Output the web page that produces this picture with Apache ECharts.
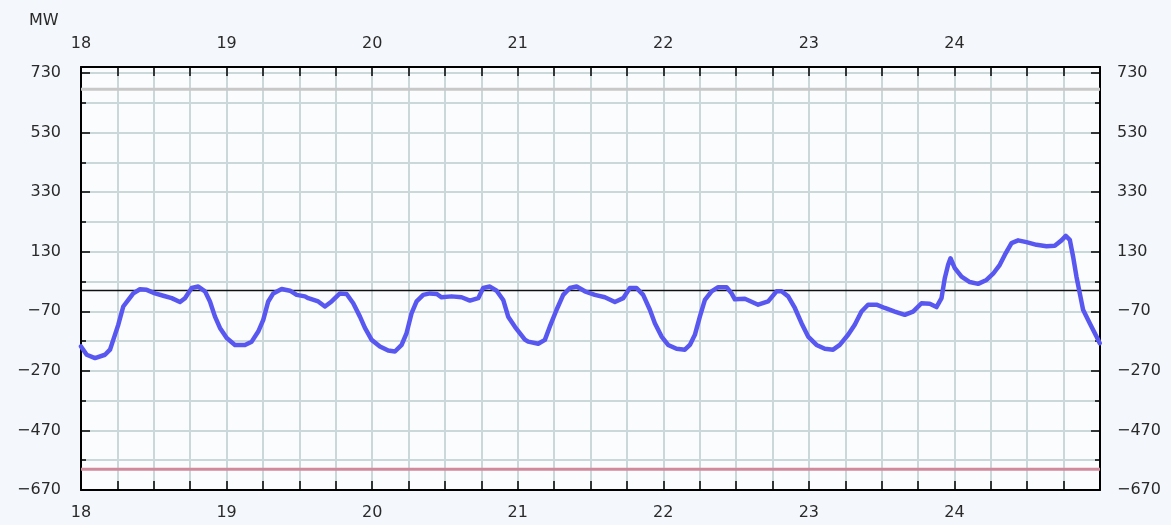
<!DOCTYPE html>
<html>
<head>
<meta charset="utf-8">
<script src="https://cdn.jsdelivr.net/npm/echarts@6/dist/echarts.min.js"></script>
<style>
html,body{margin:0;padding:0;background:#f4f7fb;}
#c{width:1171px;height:525px;}
</style>
</head>
<body>
<div id="c"></div>
<script>
// hours since the 18th, 00:00
const hours = [0.0,0.94,2.31,3.96,4.78,5.32,6.15,6.97,7.80,8.62,9.72,10.83,12.20,13.57,14.95,16.32,17.14,18.25,19.33,20.44,21.26,22.09,22.91,24.02,25.38,27.03,28.14,29.22,30.05,30.87,31.70,33.08,34.45,35.55,36.92,
37.47,39.11,40.22,41.32,42.69,43.79,44.88,45.99,46.81,47.92,49.28,50.65,51.76,52.86,53.68,54.51,55.33,56.42,57.52,58.63,59.45,61.10,62.75,64.12,65.49,66.31,67.41,68.52,69.61,70.43,71.54,73.18,
73.73,75.38,76.48,77.30,78.41,79.50,80.60,81.71,83.07,84.72,86.37,88.02,89.39,90.49,91.59,92.68,93.79,94.61,95.72,96.80,98.19,99.56,100.38,101.21,102.03,102.86,103.96,105.05,106.43,107.26,107.80,109.45,
111.64,113.29,114.67,115.50,116.59,117.69,118.79,119.88,121.26,122.63,124.00,125.10,126.47,127.57,128.68,129.76,131.15,132.52,134.17,135.81,137.18,138.57,139.94,141.04,
141.87,142.41,142.96,143.35,144.06,145.17,146.53,147.90,149.29,150.38,151.48,152.30,153.41,154.50,155.88,157.53,159.18,160.54,161.65,162.36,163.02,163.56,164.12,164.67,165.21,166.31,167.42,167.96];
const mw = [-188,-216,-227,-216,-199,-166,-115,-54,-32,-10,4,2,-10,-18,-26,-39,-26,8,13,-3,-37,-88,-126,-160,-183,-183,-172,-138,-99,-37,-10,5,-1,-15,-20,
-26,-37,-54,-37,-10,-12,-43,-88,-126,-166,-188,-202,-205,-183,-143,-76,-37,-15,-10,-12,-23,-20,-23,-34,-26,8,13,-1,-32,-88,-122,-165,
-172,-179,-166,-121,-65,-15,8,13,-3,-15,-23,-39,-26,8,8,-15,-65,-110,-155,-183,-196,-199,-183,-149,-88,-32,-3,11,11,-10,-30,-28,
-48,-37,-3,-3,-20,-59,-110,-155,-183,-196,-199,-183,-149,-115,-71,-48,-48,-59,-71,-82,-71,-43,-45,-56,
-26,41,86,108,75,46,28,22,35,56,86,119,159,168,162,153,148,150,168,183,170,114,46,-10,-65,-110,-155,-177];
const startDay = 18;
const dayTicks = [18,19,20,21,22,23,24];
const yLabels = [730,530,330,130,-70,-270,-470,-670];
const upperLimit = 675;
const lowerLimit = -600;

const seriesData = hours.map((h,i)=>[startDay + h/24, mw[i]]);
const font = 'DejaVu Sans';
const fs = 16;
const gridColor = '#cbd8da';
const xLabelFmt = v => dayTicks.some(d=>Math.abs(d-v)<1e-6) ? String(Math.round(v)) : '';
const yLabelFmt = v => yLabels.some(d=>Math.abs(d-v)<1e-6) ? String(Math.round(v)).replace('-', '\u2212') : '';

function xAxis(pos, split){
  return {type:'value', position:pos, min:18, max:25, interval:0.25,
    axisLine:{show:true, onZero:false, lineStyle:{color:'#000', width:2}},
    axisTick:{show:true, inside:true, length:9, lineStyle:{color:'#000', width:1.5}},
    axisLabel:{formatter:xLabelFmt, fontFamily:font, fontSize:fs, color:'#2a2a2a', margin:15, showMaxLabel:false, showMinLabel:true},
    splitLine:{show:split, lineStyle:{color:gridColor, width:2}}};
}
function yAxis(pos, major){
  return {type:'value', position:pos, min:-670, max:750, interval: major?200:100,
    axisLine:{show:major, onZero:false, lineStyle:{color:'#000', width:2}},
    axisTick:{show:true, inside:true, length: major?9:5, lineStyle:{color:'#000', width:1.5}},
    axisLabel:{show:major, formatter:yLabelFmt, fontFamily:font, fontSize:fs, color:'#2a2a2a', margin: pos==='left'?20:17, showMaxLabel:false},
    splitLine:{show: !major && pos==='left', lineStyle:{color:gridColor, width:2}}};
}

const chart = echarts.init(document.getElementById('c'));
chart.setOption({
  animation:false,
  backgroundColor:'#f4f7fb',
  grid:{left:81, right:71, top:67, bottom:35, show:true, backgroundColor:'#fbfcfe', borderWidth:0},
  graphic:[{type:'text', left:29, top:13, style:{text:'MW', font:'16px "DejaVu Sans"', fill:'#2a2a2a'}}],
  xAxis:[xAxis('bottom', true), xAxis('top', false)],
  yAxis:[yAxis('left', true), yAxis('left', false), yAxis('right', true), yAxis('right', false)],
  series:[
    {type:'line', xAxisIndex:0, yAxisIndex:0, data:[[18,upperLimit],[25,upperLimit]], symbol:'none', silent:true,
     lineStyle:{color:'#c8c8c8', width:3}, z:2},
    {type:'line', xAxisIndex:0, yAxisIndex:0, data:[[18,lowerLimit],[25,lowerLimit]], symbol:'none', silent:true,
     lineStyle:{color:'#d08a9c', width:3}, z:2},
    {type:'line', xAxisIndex:0, yAxisIndex:0, data:[[18,0],[25,0]], symbol:'none', silent:true,
     lineStyle:{color:'#111', width:1.5}, z:3},
    {type:'line', xAxisIndex:0, yAxisIndex:0, data:seriesData, symbol:'none', smooth:false,
     lineStyle:{color:'#5858f0', width:4.5, join:'round', cap:'round'}, z:4}
  ]
});
</script>
</body>
</html>
